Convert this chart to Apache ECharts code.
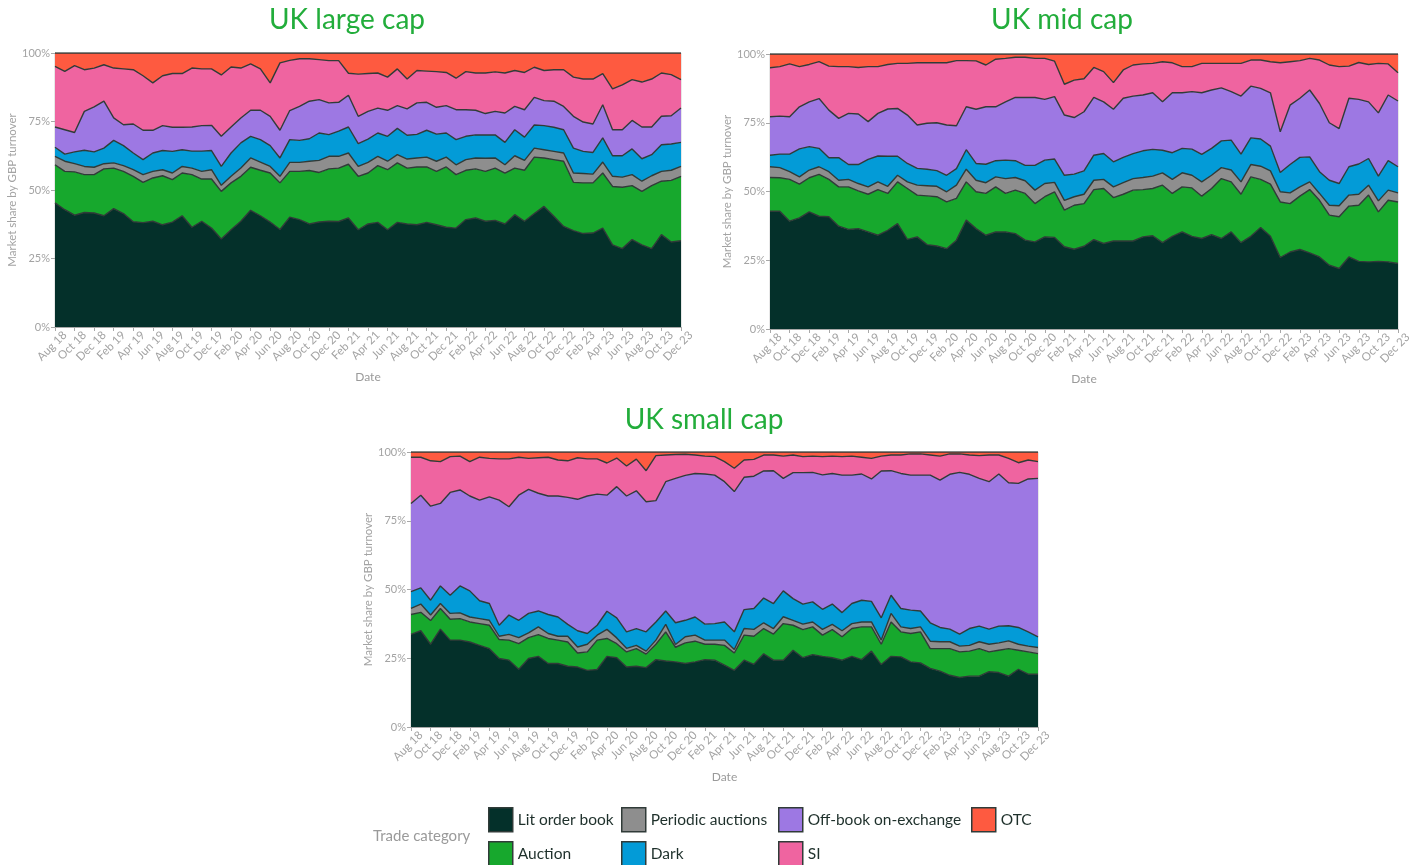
<!DOCTYPE html>
<html>
<head>
<meta charset="utf-8">
<title>UK equity market share by trade category</title>
<script src="https://cdn.jsdelivr.net/npm/echarts@6/dist/echarts.min.js"></script>
<style>
  html, body { margin: 0; padding: 0; background: #ffffff; }
  #chart { width: 1415px; height: 865px; }
</style>
</head>
<body>
<div id="chart"></div>
<script>
// Monthly observations, Aug 2018 – Dec 2023
const months = [
  'Aug 18','Sep 18','Oct 18','Nov 18','Dec 18',
  'Jan 19','Feb 19','Mar 19','Apr 19','May 19','Jun 19','Jul 19','Aug 19','Sep 19','Oct 19','Nov 19','Dec 19',
  'Jan 20','Feb 20','Mar 20','Apr 20','May 20','Jun 20','Jul 20','Aug 20','Sep 20','Oct 20','Nov 20','Dec 20',
  'Jan 21','Feb 21','Mar 21','Apr 21','May 21','Jun 21','Jul 21','Aug 21','Sep 21','Oct 21','Nov 21','Dec 21',
  'Jan 22','Feb 22','Mar 22','Apr 22','May 22','Jun 22','Jul 22','Aug 22','Sep 22','Oct 22','Nov 22','Dec 22',
  'Jan 23','Feb 23','Mar 23','Apr 23','May 23','Jun 23','Jul 23','Aug 23','Sep 23','Oct 23','Nov 23','Dec 23'
];

const categories = ['Lit order book', 'Auction', 'Periodic auctions', 'Dark', 'Off-book on-exchange', 'SI', 'OTC'];
const yTicks = [0, 25, 50, 75, 100];

// UK large cap – market share (%) by trade category
const largeLit = [45.3,42.8,40.8,41.8,41.6,40.6,43.2,41.4,38.4,38.1,38.6,37.3,38.3,40.6,36.4,38.6,36.1,32.1,35.5,38.6,42.6,40.6,38.3,35.6,40.1,39.2,37.6,38.3,38.6,38.5,39.8,35.5,37.6,38.2,35.5,38.2,37.6,37.3,38.2,37.3,36.4,36.1,39.2,39.8,38.6,38.9,37.6,41.0,38.6,41.4,44.0,40.4,36.7,35.2,34.1,34.3,36.1,30.0,28.6,31.9,30.0,28.6,33.7,31.0,31.5];
const largeAuction = [13.9,14.0,15.8,13.8,14.0,17.1,14.8,15.4,16.6,14.7,15.8,17.9,15.5,15.6,19.2,15.4,17.9,17.4,17.1,16.4,15.7,16.6,17.9,17.0,16.7,17.6,19.5,18.1,19.1,19.5,19.6,19.5,18.6,20.7,21.9,21.7,20.4,21.1,20.2,19.5,22.0,19.5,18.0,17.9,18.2,19.1,18.6,17.0,18.6,20.6,17.7,20.7,23.8,17.6,18.5,18.3,20.1,21.3,22.4,19.7,19.5,23.0,19.5,22.5,23.5];
const largePeriodic = [3.1,3.7,3.0,3.0,2.7,1.9,1.9,2.1,2.4,2.8,2.4,2.2,2.4,2.4,2.4,2.8,3.4,2.2,2.4,3.0,3.4,3.0,2.4,2.4,3.3,3.3,3.4,4.4,4.6,4.3,4.1,3.6,3.9,3.4,3.1,3.0,3.3,3.3,3.6,3.7,3.6,3.6,3.9,4.0,4.8,3.7,3.0,4.5,3.6,3.3,3.0,3.0,3.0,3.4,3.4,3.2,4.0,3.7,3.7,4.0,3.7,3.6,3.6,3.7,3.6];
const largeDark = [3.3,2.6,4.3,5.9,5.6,5.7,8.2,7.3,6.1,5.5,6.7,7.0,7.9,6.1,6.2,7.4,7.0,6.9,8.5,9.2,7.9,8.2,7.6,6.7,8.3,8.0,8.2,10.0,7.9,9.2,9.5,8.3,8.5,8.5,9.1,9.6,8.7,8.6,9.8,9.9,8.8,9.2,8.5,8.4,8.5,8.4,8.2,9.5,8.5,8.4,8.8,8.8,8.5,9.1,8.1,7.9,8.8,7.5,7.8,9.4,8.2,7.7,9.7,9.6,8.8];
const largeOffBook = [7.4,8.9,7.1,14.2,16.4,17.1,8.2,7.6,10.6,10.7,8.3,9.1,8.8,8.2,8.8,9.3,9.2,11.0,9.5,9.1,9.5,10.7,10.7,10.1,10.6,12.4,13.7,12.2,11.6,10.5,11.6,10.0,10.1,9.1,9.5,8.3,9.6,11.5,10.2,9.8,10.0,10.9,9.7,9.0,7.8,8.6,10.7,8.5,10.0,10.1,9.1,9.5,8.5,11.6,10.7,10.4,12.1,9.5,9.5,10.4,11.6,10.1,10.4,10.3,12.5];
const largeSI = [22.1,21.3,24.4,15.2,14.2,13.3,18.2,20.4,19.8,19.9,17.3,18.2,19.6,19.6,21.5,20.7,20.6,22.4,21.9,18.2,16.9,15.1,12.2,24.6,18.3,17.4,15.5,14.6,15.4,15.2,8.0,15.4,13.8,12.8,12.1,13.4,10.9,11.8,11.4,13.0,12.1,11.5,13.9,13.6,14.8,14.4,14.6,13.1,13.6,11.0,11.0,11.5,13.4,14.3,15.7,16.4,11.4,14.9,16.4,14.9,16.4,17.5,15.8,15.0,10.4];
const largeOTC = [4.9,6.7,4.6,6.1,5.5,4.3,5.5,5.8,6.1,8.3,10.9,8.3,7.5,7.5,5.5,5.8,5.8,8.0,5.1,5.5,4.0,5.8,10.9,3.6,2.7,2.1,2.1,2.4,2.8,2.8,7.4,7.7,7.5,7.3,8.8,5.8,9.5,6.4,6.6,6.8,7.1,9.2,6.8,7.3,7.3,6.9,7.3,6.4,7.1,5.2,6.4,6.1,6.1,8.8,9.5,9.5,7.5,13.1,11.6,9.7,10.6,9.5,7.3,7.9,9.7];

// UK mid cap – market share (%) by trade category
const midLit = [42.8,42.8,39.2,40.4,42.6,41.0,40.8,37.4,36.2,36.5,35.3,34.1,35.9,38.3,32.6,33.5,30.7,30.2,29.2,32.3,39.6,36.5,34.1,35.3,35.3,34.7,32.3,31.7,33.5,33.3,29.9,29.0,30.1,32.5,31.1,32.0,32.0,32.0,33.5,33.9,31.4,33.7,35.3,33.7,32.9,34.3,32.9,35.3,31.4,33.7,36.9,33.7,26.0,28.0,28.9,27.7,26.2,23.2,22.0,26.2,24.6,24.4,24.6,24.4,23.8];
const midAuction = [12.3,12.2,15.2,12.3,12.4,15.2,13.6,14.3,15.5,13.7,13.7,16.6,13.4,15.2,18.5,15.2,17.7,17.9,17.0,15.2,13.9,13.4,15.2,16.4,14.0,15.8,17.0,13.9,14.6,16.6,13.3,16.0,15.5,18.2,20.0,15.8,17.0,18.5,17.2,17.2,20.9,15.6,16.4,17.6,15.4,16.8,21.8,18.2,17.6,21.6,17.5,19.0,20.2,17.6,19.4,23.0,20.6,18.2,18.8,18.5,20.4,24.3,18.0,22.4,22.4];
const midPeriodic = [3.9,3.7,2.8,2.6,2.8,2.8,2.8,2.4,2.7,2.7,2.7,2.8,2.6,2.4,2.4,3.6,3.7,3.8,3.7,4.8,4.6,4.2,3.9,3.6,5.4,4.6,4.6,4.9,4.8,3.4,3.6,3.1,3.4,3.4,3.3,3.9,4.2,4.2,4.4,4.5,4.5,5.1,5.1,4.6,5.2,4.8,4.0,4.3,4.5,4.5,4.8,4.8,3.7,3.9,3.4,2.8,2.5,3.6,4.0,4.0,4.0,3.6,4.0,3.7,3.3];
const midDark = [4.2,4.9,6.4,10.2,8.5,6.7,5.1,8.2,5.4,6.9,10.0,9.4,10.9,6.9,6.7,6.1,6.0,5.7,6.0,6.0,7.1,6.1,6.7,5.9,6.7,6.1,5.6,9.0,8.5,8.5,9.1,8.2,8.5,9.1,9.4,9.1,9.2,9.1,9.7,9.7,8.2,9.7,8.9,9.5,10.0,9.8,9.7,10.9,10.1,9.7,9.9,9.0,7.0,10.3,10.7,9.1,7.9,9.1,8.1,10.3,11.0,9.7,9.0,10.7,9.5];
const midOffBook = [14.0,13.8,13.6,15.3,16.3,18.1,17.3,14.3,18.6,18.4,13.7,15.5,17.2,17.4,17.6,15.8,16.7,17.4,18.3,15.6,15.6,19.7,20.9,19.6,21.2,23.0,24.7,24.7,22.1,22.7,21.9,20.6,21.5,21.0,18.8,19.1,21.5,20.9,20.3,20.6,17.6,21.8,20.2,20.9,22.4,21.2,19.3,17.6,21.1,18.8,18.4,19.4,14.8,21.6,21.5,24.3,24.8,20.9,20.0,24.9,23.5,20.6,23.0,23.9,23.9];
const midSI = [17.8,18.0,19.2,14.6,13.6,13.4,16.0,18.8,17.0,16.9,20.0,17.0,16.2,16.4,18.8,22.6,22.0,21.8,22.6,23.7,16.8,17.6,15.2,17.3,15.8,14.6,14.6,14.2,14.9,12.9,11.2,13.6,12.0,10.9,11.0,9.7,10.3,11.3,11.3,10.7,14.6,10.9,9.5,9.1,10.7,9.7,8.9,10.3,11.9,9.5,10.3,11.3,25.1,15.8,13.7,11.5,15.8,21.0,22.5,11.7,13.4,13.6,18.0,11.3,10.3];
const midOTC = [5.0,4.6,3.6,4.6,3.8,2.8,4.4,4.6,4.6,4.9,4.6,4.6,3.8,3.4,3.4,3.2,3.2,3.2,3.2,2.4,2.4,2.5,4.0,1.9,1.6,1.2,1.2,1.6,1.6,2.6,11.0,9.5,9.0,4.9,6.4,10.4,5.8,4.0,3.6,3.4,2.8,3.2,4.6,4.6,3.4,3.4,3.4,3.4,3.4,2.2,2.2,2.8,3.2,2.8,2.4,1.6,2.2,4.0,4.6,4.4,3.1,3.8,3.4,3.6,6.8];

// UK small cap – market share (%) by trade category
const smallLit = [33.7,35.0,30.1,35.6,31.6,31.6,30.9,29.7,28.5,24.9,24.3,21.0,24.9,25.7,23.1,23.1,22.1,21.8,20.6,20.9,25.7,25.2,21.8,22.1,21.6,24.5,24.0,23.7,23.1,23.7,24.5,24.3,22.5,20.6,24.3,22.8,26.6,24.3,24.3,27.9,25.2,26.3,25.7,25.2,24.3,25.7,24.5,27.6,22.7,25.7,25.5,23.7,23.3,21.3,20.3,18.8,18.0,18.5,18.5,20.1,19.8,18.5,21.0,19.2,19.2];
const smallAuction = [7.2,6.7,8.6,7.5,7.6,7.8,7.3,7.9,8.5,6.9,7.3,9.3,7.6,7.9,9.1,8.5,8.8,5.1,6.7,10.7,6.5,5.1,5.5,6.4,4.9,5.6,10.6,5.3,7.5,7.5,5.6,5.8,7.2,6.3,9.1,10.2,9.2,9.5,13.3,9.1,10.2,10.1,7.7,10.2,8.5,10.1,11.9,8.8,7.4,12.5,9.1,10.3,11.3,7.2,8.2,9.7,9.3,9.1,10.0,7.2,8.1,10.0,6.9,8.1,7.5];
const smallPeriodic = [2.2,3.0,2.0,1.8,2.1,2.1,1.8,1.8,1.8,1.2,2.1,2.2,1.7,2.8,1.8,1.4,2.1,2.2,2.8,1.8,3.3,2.1,1.3,1.2,1.1,1.5,2.7,1.0,2.2,2.2,1.5,1.5,1.9,1.3,2.4,2.5,2.1,2.0,2.5,1.8,2.0,1.8,2.1,1.9,2.2,1.8,1.8,1.8,1.5,3.1,1.8,1.8,1.8,2.7,2.5,2.5,2.1,2.1,2.5,2.8,2.7,2.8,2.2,2.1,2.2];
const smallDark = [6.1,5.9,5.4,6.4,6.6,9.8,9.5,6.5,6.1,4.0,7.0,6.3,7.1,5.8,6.9,7.0,4.3,5.9,3.9,3.6,6.6,7.3,6.0,6.1,7.0,6.6,4.9,7.9,6.0,6.6,5.8,6.0,6.6,6.4,6.9,7.6,9.0,9.1,9.4,7.9,7.3,7.3,7.3,7.4,6.6,7.3,7.9,7.5,8.1,6.6,6.7,6.7,5.8,6.7,5.2,4.6,4.4,6.1,5.7,5.5,6.1,5.5,6.1,5.2,3.9];
const smallOffBook = [32.1,33.7,34.2,30.0,37.4,34.9,34.5,36.6,38.8,45.5,39.4,45.5,45.1,42.8,43.1,44.0,46.2,47.8,50.0,47.7,42.2,47.7,49.4,50.1,47.3,44.1,47.0,52.5,52.7,52.2,54.6,54.0,51.0,51.0,48.1,48.1,46.2,48.3,40.9,45.8,47.8,47.1,48.9,47.5,50.0,46.7,45.9,44.5,53.4,45.3,49.1,49.1,49.4,53.7,53.6,56.3,58.8,56.1,53.7,53.6,55.3,52.0,52.4,55.6,57.6];
const smallSI = [16.8,13.8,16.5,15.2,13.0,12.3,12.5,15.6,14.0,15.0,17.4,13.8,11.3,12.9,14.1,13.1,13.3,15.1,13.5,12.8,11.7,10.4,10.9,11.5,11.3,16.4,9.7,8.7,7.7,6.7,6.5,6.7,7.3,8.5,6.3,6.1,5.8,5.7,8.1,6.4,5.8,5.9,6.6,6.3,6.7,6.9,6.1,7.5,5.4,5.7,6.7,7.7,7.7,7.3,8.7,7.4,6.7,7.0,8.3,9.7,6.9,8.9,7.5,6.9,6.1];
const smallOTC = [1.9,1.9,3.2,3.5,1.7,1.5,3.5,1.9,2.3,2.5,2.5,1.9,2.3,2.1,1.9,2.9,3.2,2.1,2.5,2.5,4.0,2.2,5.1,2.6,6.8,1.3,1.1,0.9,0.8,1.1,1.5,1.7,3.5,5.9,2.9,2.7,1.1,1.1,1.5,1.1,1.7,1.5,1.7,1.5,1.7,1.5,1.9,2.3,1.5,1.1,1.1,0.7,0.7,1.1,1.5,0.7,0.7,1.1,1.3,1.1,1.1,2.3,3.9,2.9,3.5];

// ---- presentation ----
const FONT = 'Lato, "Open Sans", sans-serif';
const fills = ['#04302a', '#17a82d', '#8e8e8e', '#039bd7', '#9d78e3', '#ef64a0', '#fe5a40'];
const outline = '#303b38';
const axisGrey = '#a8a8a8';

const panels = [
  { name: 'UK large cap', series: [largeLit, largeAuction, largePeriodic, largeDark, largeOffBook, largeSI, largeOTC],
    grid: { left: 55, top: 53, width: 626, height: 274 }, titleX: 347, titleY: 6 },
  { name: 'UK mid cap', series: [midLit, midAuction, midPeriodic, midDark, midOffBook, midSI, midOTC],
    grid: { left: 770, top: 54, width: 628, height: 275 }, titleX: 1062, titleY: 6 },
  { name: 'UK small cap', series: [smallLit, smallAuction, smallPeriodic, smallDark, smallOffBook, smallSI, smallOTC],
    grid: { left: 411, top: 452, width: 627, height: 275 }, titleX: 704, titleY: 406 }
];

// Legend laid out in two rows, filled column by column
const legendSlots = [
  [488, 807], [488, 841],
  [621, 807], [621, 841],
  [778, 807], [778, 841],
  [971, 807]
];

const option = {
  animation: false,
  backgroundColor: '#ffffff',
  textStyle: { fontFamily: FONT },
  title: panels.map(p => ({
    text: p.name,
    left: p.titleX,
    top: p.titleY,
    textAlign: 'center',
    padding: 0,
    textStyle: { color: '#22ad3b', fontSize: 28, fontWeight: 'normal', fontFamily: FONT }
  })).concat([{
    text: 'Trade category',
    left: 373,
    top: 829,
    padding: 0,
    textStyle: { color: '#9a9a9a', fontSize: 15, fontWeight: 'normal', fontFamily: FONT }
  }]),
  grid: panels.map(p => Object.assign({
    containLabel: false, show: true, borderColor: '#cfcfcf', borderWidth: 1, backgroundColor: 'transparent'
  }, p.grid)),
  xAxis: panels.map((p, i) => ({
    type: 'category',
    gridIndex: i,
    data: months,
    boundaryGap: false,
    name: 'Date',
    nameLocation: 'middle',
    nameGap: 44,
    nameTextStyle: { color: '#9a9a9a', fontSize: 12, fontFamily: FONT },
    axisLine: { show: true, lineStyle: { color: axisGrey, width: 1 } },
    axisTick: { show: true, interval: 1, length: 4, lineStyle: { color: axisGrey } },
    axisLabel: { interval: 1, rotate: 45, color: '#a3a3a3', fontSize: 11.5, margin: 16, padding: [0, -14, 0, 0], fontFamily: FONT },
    splitLine: { show: false }
  })),
  yAxis: panels.map((p, i) => ({
    type: 'value',
    gridIndex: i,
    min: yTicks[0],
    max: yTicks[yTicks.length - 1],
    interval: 25,
    name: 'Market share by GBP turnover',
    nameLocation: 'middle',
    nameGap: 35,
    nameTextStyle: { color: '#a3a3a3', fontSize: 11.5, fontFamily: FONT },
    axisLine: { show: true, lineStyle: { color: axisGrey, width: 1 } },
    axisTick: { show: true, length: 4, lineStyle: { color: axisGrey } },
    axisLabel: { formatter: '{value}%', color: '#a3a3a3', fontSize: 11, margin: 5, fontFamily: FONT },
    splitLine: { show: false }
  })),
  legend: categories.map((cat, i) => ({
    data: [cat],
    left: legendSlots[i][0],
    top: legendSlots[i][1],
    itemWidth: 24,
    itemHeight: 24,
    padding: 0,
    icon: 'rect',
    selectedMode: false,
    itemStyle: { borderColor: outline, borderWidth: 1.5 },
    textStyle: { color: '#1e302b', fontSize: 15.5, fontFamily: FONT }
  })),
  series: []
};

panels.forEach((p, pi) => {
  categories.forEach((cat, ci) => {
    option.series.push({
      name: cat,
      type: 'line',
      xAxisIndex: pi,
      yAxisIndex: pi,
      stack: 'share' + pi,
      data: p.series[ci],
      symbol: 'none',
      smooth: false,
      color: fills[ci],
      itemStyle: { color: fills[ci] },
      lineStyle: { color: outline, width: 1.4 },
      areaStyle: { color: fills[ci], opacity: 1 },
      emphasis: { disabled: true },
      z: 2
    });
  });
});

const chart = echarts.init(document.getElementById('chart'), null, { renderer: 'canvas' });
chart.setOption(option);
</script>
</body>
</html>
